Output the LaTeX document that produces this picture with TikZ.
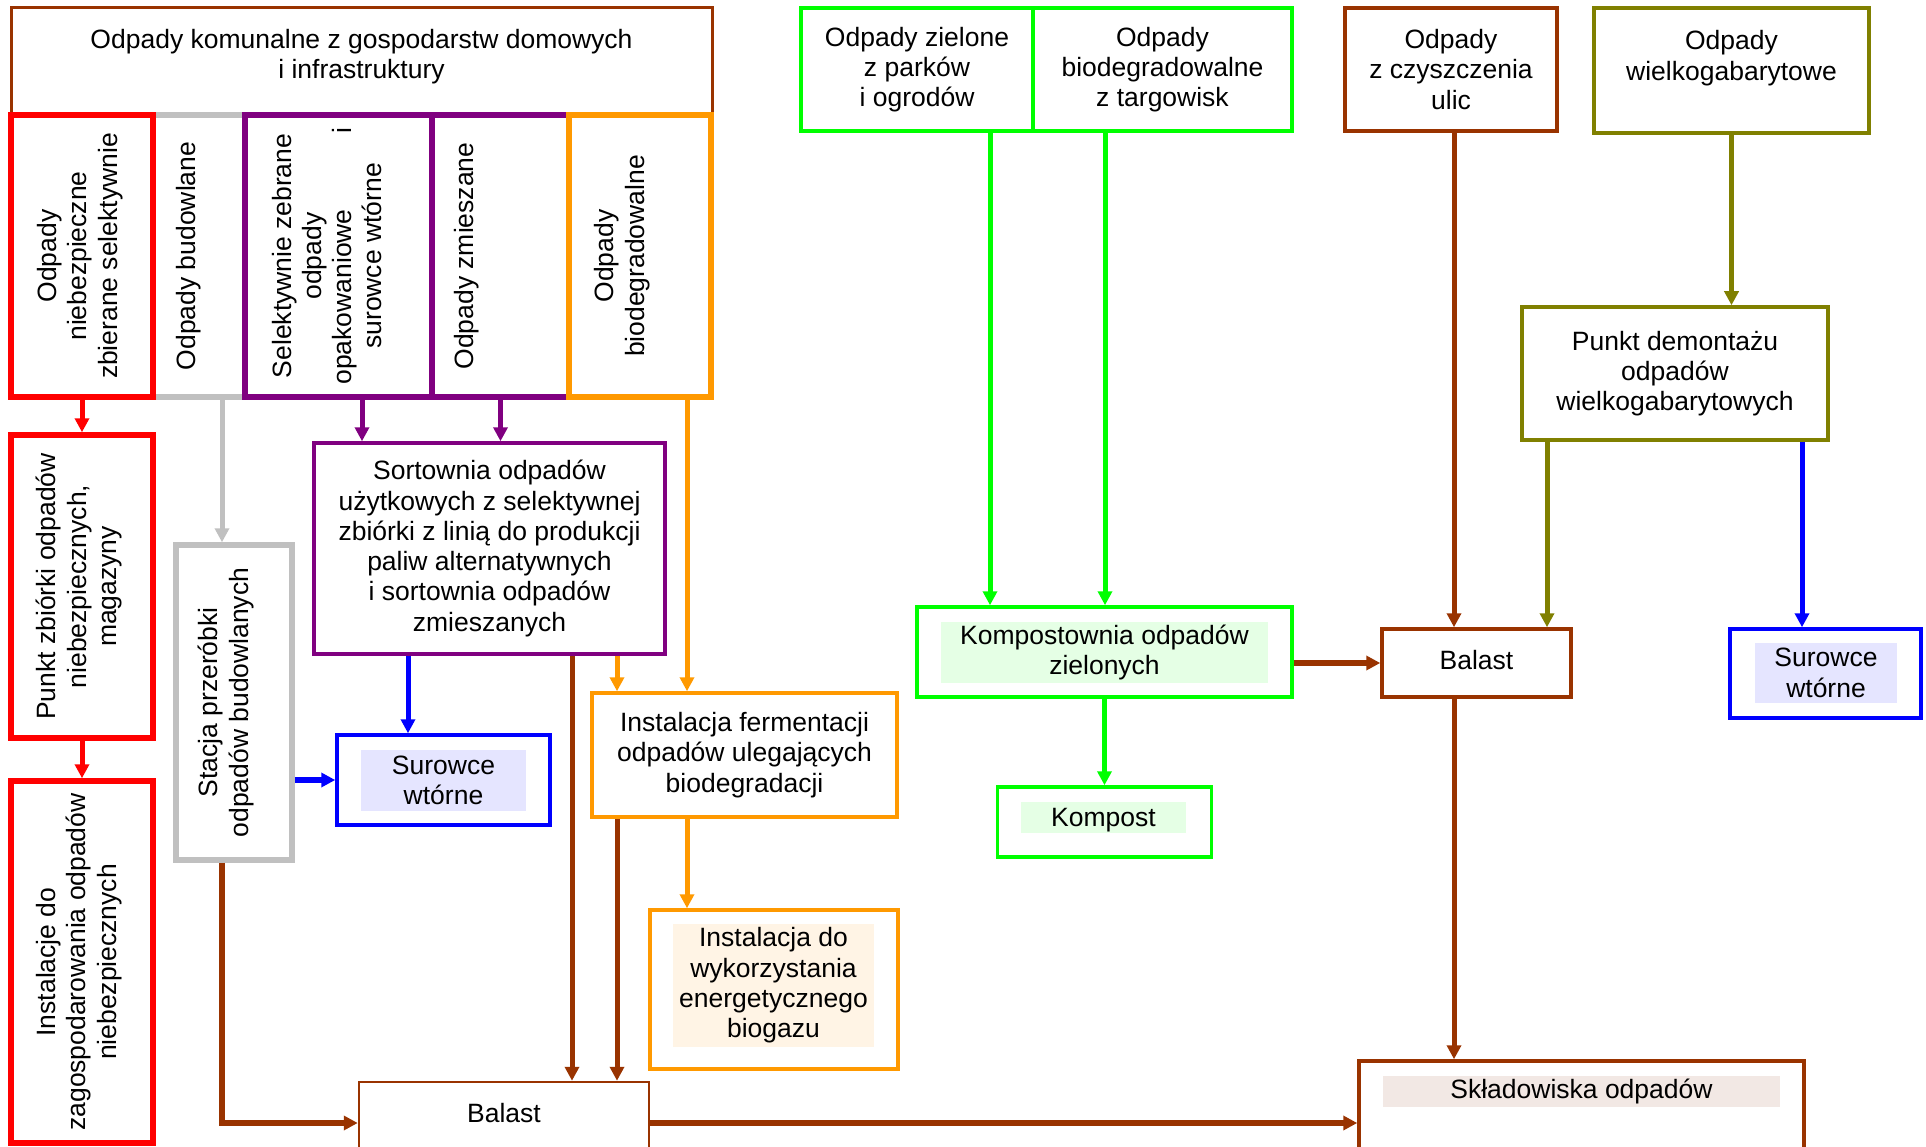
\documentclass[tikz,border=0pt]{standalone}
\usepackage{fontspec}
\setmainfont{Liberation Sans}
\usetikzlibrary{arrows.meta}

\definecolor{brn}{RGB}{153,51,0}
\definecolor{org}{RGB}{255,153,0}
\definecolor{pur}{RGB}{128,0,128}
\definecolor{grn}{RGB}{0,255,0}
\definecolor{olv}{RGB}{128,128,0}
\definecolor{gry}{RGB}{192,192,192}
\definecolor{lav}{RGB}{229,229,255}
\definecolor{lgrn}{RGB}{229,255,229}
\definecolor{lorg}{RGB}{255,244,229}
\definecolor{lbrn}{RGB}{242,232,228}

\begin{document}
\begin{tikzpicture}[x=1pt, y=-1pt,
        every node/.style={font=\fontsize{26.5}{30.3}\selectfont, align=center, inner sep=0pt},
        bx/.style={draw=#1, line width=3.5pt},
        bxT/.style={draw=#1, line width=5.5pt},
        fl/.style={fill=#1},
        vt/.style={rotate=90},
        ln/.style={draw=#1, line width=5pt, -{Triangle[length=14pt,width=14pt]}},
        lnT/.style={ln=#1, line width=6.5pt}]
        \useasboundingbox (0,0) rectangle (1926,1147);
        \clip (0,0) rectangle (1926,1147);

        \node[bx=brn, line width=3pt, minimum width=701pt, minimum height=107pt] (Kom) at (361.5,61.5) {};
        \node (tKom) at (361.5,56.5) {Odpady komunalne z gospodarstw domowych\\i infrastruktury};

        \node[bxT=gry, minimum width=92pt, minimum height=282pt] (cBud) at (199,256) {};
        \node[bxT=pur, minimum width=137pt, minimum height=282pt] (cZm) at (500.5,256) {};
        \node[bxT=pur, minimum width=187pt, minimum height=282pt] (cSel) at (338.5,256) {};
        \node[bxT=red, minimum width=142pt, minimum height=282pt] (cRed) at (82,256) {};
        \node[bxT=org, minimum width=142pt, minimum height=282pt] (cBio) at (640,256) {};
        \node[vt] (tRed) at (80,256) {Odpady\\niebezpieczne\\zbierane selektywnie};
        \node[vt] (tBud) at (188.5,256) {Odpady budowlane};
        \node[vt] (tSel) at (327,256) {Selektywnie zebrane\\odpady\\opakowaniowe\hspace{76pt}i\\surowce wtórne};
        \node[vt] (tZm) at (467,256) {Odpady zmieszane};
        \node[vt] (tBio) at (622,256) {Odpady\\biodegradowalne};

        \node[bxT=red, minimum width=142pt, minimum height=303pt] (Zbior) at (82,586.5) {};
        \node[vt] (tZbior) at (79,586.5) {Punkt zbiórki odpadów\\niebezpiecznych,\\magazyny};
        \node[bxT=red, minimum width=142pt, minimum height=362pt] (Zagosp) at (82,962) {};
        \node[vt] (tZagosp) at (79,962) {Instalacje do\\zagospodarowania odpadów\\niebezpiecznych};
        \node[bxT=gry, minimum width=116pt, minimum height=315pt] (Stac) at (234,702.5) {};
        \node[vt] (tStac) at (226,702.5) {Stacja przeróbki\\odpadów budowlanych};

        \node[bx=pur, minimum width=351pt, minimum height=211pt] (Sort) at (489.5,548.5)
            {Sortownia odpadów\\użytkowych z selektywnej\\zbiórki z linią do produkcji\\paliw alternatywnych\\i sortownia odpadów\\zmieszanych};
        \node[bx=blue, minimum width=213pt, minimum height=90pt] (Sur1) at (443.5,780) {};
        \node[fl=lav, minimum width=165pt, minimum height=61pt] (Sur1in) at (443.5,780.5) {Surowce\\wtórne};
        \node[bx=org, minimum width=305pt, minimum height=124pt] (Ferm) at (744.5,755)
            {Instalacja fermentacji\\odpadów ulegających\\biodegradacji};
        \node[bx=org, minimum width=248pt, minimum height=159pt] (Biog) at (774,989.5) {};
        \node[fl=lorg, minimum width=201pt, minimum height=123pt] (Biogin) at (773.5,985.5)
            {Instalacja do\\wykorzystania\\energetycznego\\biogazu};
        \node[bx=brn, line width=2.5pt, minimum width=290pt, minimum height=82pt] (BalL) at (504,1123) {};
        \node (tBalL) at (504,1113) {Balast};

        \node[bx=grn, minimum width=232pt, minimum height=123pt] (Ziel) at (917,69.5) {Odpady zielone\\z parków\\i ogrodów};
        \node[bx=grn, minimum width=259pt, minimum height=123pt] (Targ) at (1162.5,69.5) {Odpady\\biodegradowalne\\z targowisk};
        \node[bx=brn, minimum width=212pt, minimum height=123pt] (Czys) at (1451,69.5) {Odpady\\z czyszczenia\\ulic};
        \node[bx=olv, minimum width=275pt, minimum height=125pt] (Wielk) at (1731.5,70.5) {Odpady\\wielkogabarytowe\\\mbox{}};
        \node[bx=olv, minimum width=306pt, minimum height=133pt] (Demon) at (1675,373.5) {Punkt demontażu\\odpadów\\wielkogabarytowych};
        \node[bx=grn, minimum width=375pt, minimum height=90pt] (Komp) at (1104.5,652) {};
        \node[fl=lgrn, minimum width=327pt, minimum height=61pt] (Kompin) at (1104.5,652.5) {Kompostownia odpadów\\zielonych};
        \node[bx=grn, minimum width=214pt, minimum height=70pt] (Kpst) at (1104.5,822) {};
        \node[fl=lgrn, text depth=0pt, minimum width=165pt, minimum height=31pt] (Kpstin) at (1103.5,817.5) {Kompost};
        \node[bx=brn, text depth=7pt, minimum width=189pt, minimum height=68pt] (BalR) at (1476.5,663) {Balast};
        \node[bx=blue, minimum width=191pt, minimum height=89pt] (Sur2) at (1825.5,673.5) {};
        \node[fl=lav, minimum width=142pt, minimum height=60pt] (Sur2in) at (1826,673) {Surowce\\wtórne};
        \node[bx=brn, minimum width=445pt, minimum height=124pt] (Sklad) at (1581.5,1123) {};
        \node[fl=lbrn, minimum width=397pt, minimum height=31pt] (Skladin) at (1581.5,1091.5) {Składowiska odpadów};

        \draw[ln=red] (cRed.south) -- (Zbior.north);
        \draw[ln=red] (Zbior.south) -- (Zagosp.north);
        \draw[ln=gry] ([xshift=23pt]cBud.south) -- ([xshift=23pt]cBud.south |- Stac.north);
        \draw[ln=pur] ([xshift=23.5pt]cSel.south) -- ([xshift=23.5pt]cSel.south |- Sort.north);
        \draw[ln=pur] (cZm.south) -- (cZm.south |- Sort.north);
        \draw[ln=org] ([xshift=47pt]cBio.south) -- ([xshift=47pt]cBio.south |- Ferm.north);
        \draw[ln=blue] ([xshift=-81.5pt]Sort.south) -- ([xshift=-81.5pt]Sort.south |- Sur1.north);
        \draw[ln=brn] ([xshift=82.5pt]Sort.south) -- ([xshift=82.5pt]Sort.south |- BalL.north);
        \draw[ln=org] ([xshift=127.5pt]Sort.south) -- ([xshift=127.5pt]Sort.south |- Ferm.north);
        \draw[ln=brn] ([xshift=-127.5pt]Ferm.south) -- ([xshift=-127.5pt]Ferm.south |- BalL.north);
        \draw[ln=org] ([xshift=-57.5pt]Ferm.south) -- ([xshift=-57.5pt]Ferm.south |- Biog.north);
        \draw[lnT=blue] (Sur1.west -| Stac.east) -- (Sur1.west);
        \draw[lnT=brn] ([xshift=-12pt]Stac.south) |- (BalL.west);
        \draw[lnT=brn] (BalL.east) -- (Sklad.west);

        \draw[ln=grn] ([xshift=73pt]Ziel.south) -- ([xshift=73pt]Ziel.south |- Komp.north);
        \draw[ln=grn] ([xshift=-57.5pt]Targ.south) -- ([xshift=-57.5pt]Targ.south |- Komp.north);
        \draw[ln=grn] (Komp.south) -- (Kpst.north);
        \draw[lnT=brn] (BalR.west -| Komp.east) -- (BalR.west);
        \draw[ln=brn] ([xshift=3pt]Czys.south) -- ([xshift=3pt]Czys.south |- BalR.north);
        \draw[ln=brn] ([xshift=-22.5pt]BalR.south) -- ([xshift=-22.5pt]BalR.south |- Sklad.north);
        \draw[ln=olv] (Wielk.south) -- (Wielk.south |- Demon.north);
        \draw[ln=olv] ([xshift=-128pt]Demon.south) -- ([xshift=-128pt]Demon.south |- BalR.north);
        \draw[ln=blue] ([xshift=127pt]Demon.south) -- ([xshift=127pt]Demon.south |- Sur2.north);

    \end{tikzpicture}
\end{document}
